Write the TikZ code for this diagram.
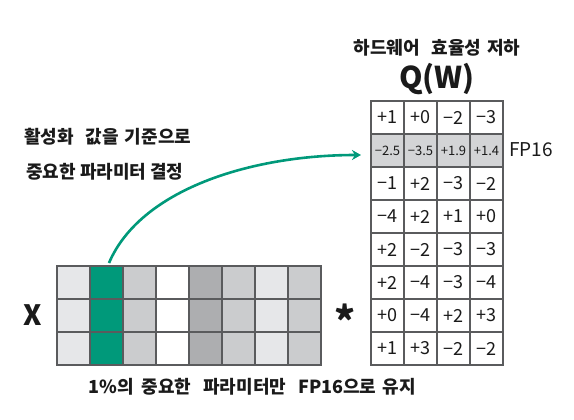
\documentclass[tikz,border=0pt]{standalone}
\usepackage{fontspec}
\setmainfont{Noto Sans CJK KR}
\usetikzlibrary{arrows.meta}
\definecolor{gridline}{HTML}{5A5B5D}
\definecolor{tealc}{HTML}{00997A}
\definecolor{g1}{HTML}{E6E7E9}
\definecolor{g2}{HTML}{CBCCCE}
\definecolor{g3}{HTML}{ADAEB0}
\definecolor{rowg}{HTML}{D3D4D6}
\definecolor{txt}{HTML}{1A1A1A}
\tikzset{
  cell/.style={draw=gridline, line width=1.4pt, minimum width=33pt, minimum height=33pt, inner sep=0pt, anchor=center, font=\fontsize{18}{20}\selectfont, text=txt},
  small/.style={font=\fontsize{13}{14}\selectfont},
  label/.style={text=txt, inner sep=0pt},
  kor/.style={font=\fontsize{18}{20}\selectfont\bfseries},
}
\begin{document}
\begin{tikzpicture}[x=1pt,y=-1pt]
\useasboundingbox (0,0) rectangle (574,420);
% X matrix
\foreach \c/\col in {1/g1,2/tealc,3/g2,4/white,5/g3,6/g2,7/g1,8/g2}{
  \foreach \r in {1,2,3}{
    \node[cell, fill=\col] (x-\r-\c) at ({57+33*(\c-0.5)},{266+33*(\r-0.5)}) {};
  }
}
% W matrix
\foreach \r/\a/\b/\cc/\d in {1/+1/+0/−2/−3, 3/−1/+2/−3/−2, 4/−4/+2/+1/+0, 5/+2/−2/−3/−3, 6/+2/−4/−3/−4, 7/+0/−4/+2/+3, 8/+1/+3/−2/−2}{
  \node[cell] (w-\r-1) at ({371+33*0.5},{101+33*(\r-0.5)}) {\a};
  \node[cell] (w-\r-2) at ({371+33*1.5},{101+33*(\r-0.5)}) {\b};
  \node[cell] (w-\r-3) at ({371+33*2.5},{101+33*(\r-0.5)}) {\cc};
  \node[cell] (w-\r-4) at ({371+33*3.5},{101+33*(\r-0.5)}) {\d};
}
\node[cell, fill=rowg, small] (w-2-1) at ({371+33*0.5},{101+33*1.5}) {−2.5};
\node[cell, fill=rowg, small] (w-2-2) at ({371+33*1.5},{101+33*1.5}) {−3.5};
\node[cell, fill=rowg, small] (w-2-3) at ({371+33*2.5},{101+33*1.5}) {+1.9};
\node[cell, fill=rowg, small] (w-2-4) at ({371+33*3.5},{101+33*1.5}) {+1.4};
% labels
\node[label, kor] (hw) at (437,48) {하드웨어\hspace{12pt}효율성\hspace{6pt}저하};
\node[label, font=\fontsize{30}{32}\selectfont\bfseries] (qw) at (437,79) {Q(W)};
\node[label, font=\fontsize{19}{21}\selectfont, anchor=west] (fp) at (509,150) {FP16};
\node[label, font=\fontsize{28}{30}\selectfont\bfseries] (x) at (33,315) {X};
\node[label, font=\fontsize{40}{42}\selectfont\bfseries] (star) at (345,320) {*};
\node[label, kor, anchor=west] (t1) at (24,137) {활성화\hspace{12pt}값을\hspace{6pt}기준으로};
\node[label, kor, anchor=west] (t2) at (26,172) {중요한 파라미터 결정};
\node[label, kor] (t3) at (252,387) {1\%의\hspace{8pt}중요한\hspace{12pt}파라미터만\hspace{12pt}FP16으로\hspace{6pt}유지};
% arrow
\coordinate (a0) at (109,263);
\coordinate (a1) at (361,155);
\draw[tealc, line width=2.6pt, -{Stealth[length=9pt,width=10pt]}] (a0) .. controls (140,190) and (250,155) .. (a1);
\end{tikzpicture}
\end{document}
